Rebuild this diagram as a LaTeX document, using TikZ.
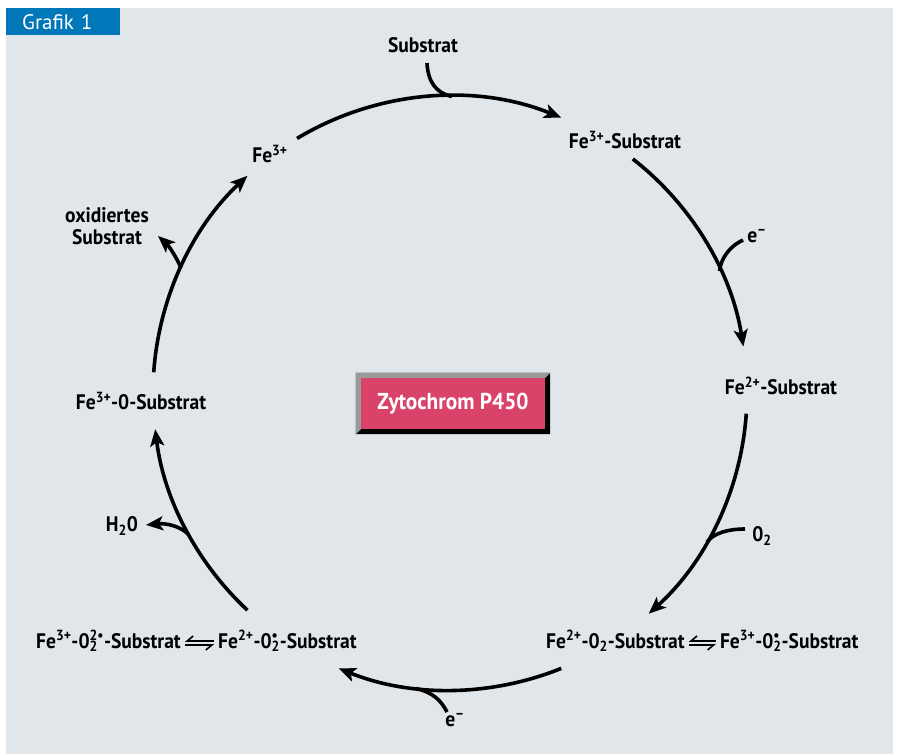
\documentclass[tikz,border=0pt]{standalone}
\usepackage{fontspec}
\setmainfont{PT Sans}[FakeStretch=0.93]
\newfontfamily\graffont{PT Sans}
\usetikzlibrary{arrows.meta,calc}
\definecolor{panel}{HTML}{E1E6EA}
\definecolor{grafblue}{HTML}{0077B9}
\definecolor{zyto}{HTML}{D9436A}
\definecolor{bevel}{HTML}{9A9A9A}
\newcommand\supsub[2]{\leavevmode\setbox0\hbox{\textsuperscript{#1}}\setbox2\hbox{\textsubscript{#2}}\ifdim\wd0>\wd2 \rlap{\box2}\box0 \else\rlap{\box0}\box2\fi}
\tikzset{
  lbl/.style={font=\bfseries\fontsize{21}{22}\selectfont, inner sep=0pt, text=black, align=center},
  cyc/.style={line width=3.6pt, -{Stealth[length=17pt,width=14pt,inset=4pt]}},
  branch/.style={line width=3.6pt},
  harp/.style={line width=1.6pt, -{Straight Barb[right,length=6pt,width=10pt]}},
}
\begin{document}
\begin{tikzpicture}[x=1pt,y=1pt]
\useasboundingbox (0,0) rectangle (898,-755);
\fill[white] (0,0) rectangle (898,-755);
\fill[panel] (6,-8) rectangle (893,-754);
\node[anchor=north west, fill=grafblue, text=white, inner xsep=16pt, inner ysep=0pt,
  minimum height=27pt, text width=82pt, align=left,
  font=\graffont\fontsize{21}{22}\selectfont] (graf) at (6,-8) {Grafik 1};

\coordinate (c) at (450,-393);

% labels
\node[lbl] (sub) at (423,-45) {Substrat};
\node[lbl] (fe3s) at (625,-140) {Fe\textsuperscript{3+}-Substrat};
\node[lbl] (fe2s) at (781,-386) {Fe\textsuperscript{2+}-Substrat};
\node[lbl] (fe3) at (270,-154) {Fe\textsuperscript{3+}};
\node[lbl] (oxs) at (107,-226) {oxidiertes\\Substrat};
\node[lbl] (fe3o) at (141,-401) {Fe\textsuperscript{3+}-0-Substrat};
\node[lbl] (h2o) at (122,-526) {H\textsubscript{2}0};
\node[lbl] (o2) at (762,-536) {0\textsubscript{2}};
\node[lbl] (e1) at (757,-236) {e\textsuperscript{--}};
\node[lbl] (e2) at (455,-720) {e\textsuperscript{--}};

\node[lbl, anchor=base west] (pA) at (36,-648) {Fe\textsuperscript{3+}-0\supsub{2\textbullet}{2}-Substrat};
\node[lbl, anchor=base west] (pB) at ([xshift=37pt]pA.base east) {Fe\textsuperscript{2+}-0\supsub{\textbullet}{2}-Substrat};
\node[lbl, anchor=base west] (pC) at (546,-648) {Fe\textsuperscript{2+}-0\textsubscript{2}-Substrat};
\node[lbl, anchor=base west] (pD) at ([xshift=35pt]pC.base east) {Fe\textsuperscript{3+}-0\supsub{\textbullet}{2}-Substrat};

% equilibrium harpoons
\draw[harp] ([shift={(-4,7)}]pB.base west) -- ([shift={(4,7)}]pA.base east);
\draw[harp] ([shift={(4,3)}]pA.base east) -- ([shift={(-4,3)}]pB.base west);
\draw[harp] ([shift={(-4,7)}]pD.base west) -- ([shift={(4,7)}]pC.base east);
\draw[harp] ([shift={(4,3)}]pC.base east) -- ([shift={(-4,3)}]pD.base west);

% Zytochrom box
\node[fill=zyto, text=white, minimum width=184pt, minimum height=51pt, inner sep=0pt,
  font=\bfseries\fontsize{23}{24}\selectfont] (zy) at (453,-403.5) {Zytochrom P450};
\fill[black] ([shift={(-5,5)}]zy.north west) -- ([shift={(5,5)}]zy.north east)
  -- ([shift={(5,-5)}]zy.south east) -- ([shift={(-5,-5)}]zy.south west) -- cycle
  -- (zy.south west) -- (zy.south east) -- (zy.north east) -- (zy.north west) -- cycle;
\fill[bevel] ([shift={(-5,5)}]zy.north west) -- ([shift={(5,5)}]zy.north east)
  -- (zy.north east) -- (zy.north west) -- (zy.south west) -- ([shift={(-5,-5)}]zy.south west) -- cycle;

% main cycle arcs
\draw[cyc] ($(c)+(121:297pt)$) arc[start angle=121, end angle=68, radius=297pt];
\draw[cyc] ($(c)+(52:297pt)$) arc[start angle=52, end angle=9, radius=297pt];
\draw[cyc] ($(c)+(-4:297pt)$) arc[start angle=-4, end angle=-48, radius=297pt];
\draw[cyc] ($(c)+(-68:297pt)$) arc[start angle=-68, end angle=-112, radius=297pt];
\draw[cyc] ($(c)+(-133:297pt)$) arc[start angle=-133, end angle=-173, radius=297pt];
\draw[cyc] ($(c)+(176:297pt)$) arc[start angle=176, end angle=133, radius=297pt];

% inputs
\coordinate (subIn) at (427,-63);
\coordinate (e1In) at (743,-240);
\coordinate (o2In) at (745,-529);
\coordinate (e2In) at (447,-712);
\draw[branch] (subIn) .. controls (428,-82) and (436,-93) .. (452,-96.5);
\draw[branch] (e1In) .. controls (730,-246) and (721,-258) .. (719.5,-271);
\draw[branch] (o2In) .. controls (728,-529) and (714,-533) .. (707,-542);
\draw[branch] (e2In) .. controls (441,-700) and (432,-692) .. (416,-688.5);
% outputs
\coordinate (h2oOut) at (146,-525);
\coordinate (oxOut) at (158,-236);
\draw[cyc] (188,-534) .. controls (180,-526) and (166,-523) .. (h2oOut);
\draw[cyc] (181,-268) .. controls (176,-256) and (168,-245) .. (oxOut);
\end{tikzpicture}
\end{document}
